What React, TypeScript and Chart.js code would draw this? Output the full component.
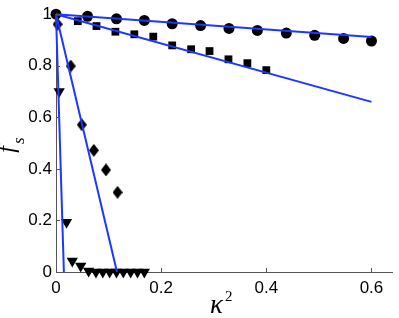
import React, { useEffect, useRef } from 'react';
import { Chart, registerables } from 'chart.js';

Chart.register(...registerables);

// Circle series
const circleX = [0, 0.06, 0.115, 0.168, 0.221, 0.275, 0.329, 0.383, 0.438, 0.492, 0.547, 0.6];
const circleY = [1.0, 0.992, 0.982, 0.976, 0.963, 0.956, 0.945, 0.937, 0.927, 0.918, 0.906, 0.896];

// Square series
const squareX = [0.0415, 0.077, 0.113, 0.149, 0.185, 0.221, 0.257, 0.292, 0.328, 0.364, 0.4];
const squareY = [0.973, 0.954, 0.932, 0.922, 0.913, 0.879, 0.864, 0.857, 0.825, 0.81, 0.783];

// Diamond series
const diamondX = [0.003, 0.028, 0.049, 0.072, 0.095, 0.117];
const diamondY = [0.961, 0.799, 0.571, 0.472, 0.396, 0.309];

// Triangle series
const triangleX = [0.006, 0.02, 0.031, 0.047, 0.062, 0.076, 0.089, 0.102, 0.115, 0.128, 0.142, 0.155, 0.168];
const triangleY = [0.7, 0.193, 0.043, 0.023, 0.004, 0, 0, 0, 0, 0, 0, 0, 0];

// Fitted lines (start and end points)
const line1X = [0, 0.6];
const line1Y = [1, 0.912];
const line2X = [0, 0.6];
const line2Y = [1, 0.66];
const line3X = [0, 0.116];
const line3Y = [1, 0];
const line4X = [0, 0.015];
const line4Y = [1, 0];

// Axes
const xTicks = [0, 0.2, 0.4, 0.6];
const yTicks = [0, 0.2, 0.4, 0.6, 0.8, 1];
const xMin = 0;
const xMax = 0.64;
const yMin = 0;
const yMax = 1;

const pts = (xs: number[], ys: number[]) => xs.map((x, i) => ({ x, y: ys[i] }));
const fmt = (v: number) => String(Math.round(v * 10) / 10);

export default function App() {
  const ref = useRef<HTMLCanvasElement>(null);

  useEffect(() => {
    const diamond = document.createElement('canvas');
    diamond.width = 10;
    diamond.height = 13;
    const dc = diamond.getContext('2d')!;
    dc.fillStyle = '#000';
    dc.beginPath();
    dc.moveTo(5, 0);
    dc.lineTo(10, 6.5);
    dc.lineTo(5, 13);
    dc.lineTo(0, 6.5);
    dc.closePath();
    dc.fill();

    const inTicks = {
      id: 'inTicks',
      afterDraw(chart: any) {
        const ctx = chart.ctx;
        const { left, bottom } = chart.chartArea;
        const xs = chart.scales.x;
        const ys = chart.scales.y;
        ctx.save();
        ctx.strokeStyle = '#555';
        ctx.lineWidth = 1;
        ctx.beginPath();
        xTicks.forEach((v) => {
          const px = Math.round(xs.getPixelForValue(v)) + 0.5;
          ctx.moveTo(px, bottom);
          ctx.lineTo(px, bottom - 4);
        });
        yTicks.forEach((v) => {
          const py = Math.round(ys.getPixelForValue(v)) + 0.5;
          ctx.moveTo(left, py);
          ctx.lineTo(left + 4, py);
        });
        ctx.stroke();
        ctx.restore();
      },
    };

    const titles = {
      id: 'titles',
      afterDraw(chart: any) {
        const ctx = chart.ctx;
        const { left, right, top, bottom } = chart.chartArea;
        ctx.save();
        ctx.fillStyle = '#000';
        ctx.textBaseline = 'alphabetic';
        ctx.textAlign = 'left';
        // y title: f_s rotated
        const cy = (top + bottom) / 2 + 2;
        ctx.translate(14, cy);
        ctx.rotate(-Math.PI / 2);
        const fFont = 'italic 24px "Liberation Serif", "DejaVu Serif", serif';
        const sFont = 'italic 17px "Liberation Serif", "DejaVu Serif", serif';
        ctx.font = fFont;
        const wf = ctx.measureText('f').width;
        ctx.font = sFont;
        const ws = ctx.measureText('s').width;
        const start = -(wf + ws + 2) / 2;
        ctx.font = fFont;
        ctx.fillText('f', start, 0);
        ctx.font = sFont;
        ctx.fillText('s', start + wf + 2, 10);
        ctx.restore();

        // x title: κ^2
        ctx.save();
        ctx.fillStyle = '#000';
        ctx.textBaseline = 'alphabetic';
        ctx.textAlign = 'left';
        const kFont = 'italic 27px "Liberation Serif", "DejaVu Serif", serif';
        const tFont = '15px "Liberation Serif", "DejaVu Serif", serif';
        ctx.font = kFont;
        const wk = ctx.measureText('κ').width;
        ctx.font = tFont;
        const w2 = ctx.measureText('2').width;
        const cx = (left + right) / 2 - 3;
        const sx = cx - (wk + w2 + 2) / 2;
        ctx.font = kFont;
        ctx.fillText('κ', sx, 313);
        ctx.font = tFont;
        ctx.fillText('2', sx + wk + 2, 301);
        ctx.restore();
      },
    };

    const lineStyle = {
      showLine: true,
      borderColor: 'rgb(30, 55, 255)',
      borderWidth: 2,
      pointRadius: 0,
      fill: false,
      order: 0,
    };

    const chart = new Chart(ref.current!, {
      type: 'scatter',
      data: {
        datasets: [
          { ...lineStyle, data: pts(line1X, line1Y) },
          { ...lineStyle, data: pts(line2X, line2Y) },
          { ...lineStyle, data: pts(line3X, line3Y) },
          { ...lineStyle, data: pts(line4X, line4Y) },
          {
            data: pts(circleX, circleY),
            pointStyle: 'circle',
            pointRadius: 5.5,
            backgroundColor: '#000',
            borderColor: '#000',
            borderWidth: 0,
            order: 1,
          },
          {
            data: pts(squareX, squareY),
            pointStyle: 'rect',
            pointRadius: 5.5,
            backgroundColor: '#000',
            borderColor: '#000',
            borderWidth: 0,
            order: 1,
          },
          {
            data: pts(diamondX, diamondY),
            pointStyle: diamond,
            pointRadius: 6,
            backgroundColor: '#000',
            borderColor: '#000',
            borderWidth: 0,
            order: 1,
          },
          {
            data: pts(triangleX, triangleY),
            pointStyle: 'triangle',
            rotation: 180,
            pointRadius: 6.5,
            backgroundColor: '#000',
            borderColor: '#000',
            borderWidth: 0,
            order: 1,
          },
        ],
      } as any,
      options: {
        animation: false,
        responsive: false,
        events: [],
        clip: false,
        layout: { padding: { top: 13, right: 4, left: 0, bottom: 0 } },
        plugins: { legend: { display: false }, tooltip: { enabled: false } },
        scales: {
          x: {
            type: 'linear',
            min: xMin,
            max: xMax,
            afterBuildTicks: (s: any) => {
              s.ticks = xTicks.map((v) => ({ value: v }));
            },
            afterFit: (s: any) => {
              s.height = 46;
            },
            grid: { drawOnChartArea: false, drawTicks: false },
            border: { display: true, color: '#555', width: 1 },
            ticks: {
              color: '#000',
              font: { family: '"Liberation Sans", Arial, sans-serif', size: 17 },
              padding: 6,
              maxRotation: 0,
              autoSkip: false,
              callback: (v: any) => fmt(Number(v)),
            },
          },
          y: {
            type: 'linear',
            min: yMin,
            max: yMax,
            afterBuildTicks: (s: any) => {
              s.ticks = yTicks.map((v) => ({ value: v }));
            },
            afterFit: (s: any) => {
              s.width = 56;
            },
            grid: { drawOnChartArea: false, drawTicks: false },
            border: { display: true, color: '#555', width: 1 },
            ticks: {
              color: '#000',
              font: { family: '"Liberation Sans", Arial, sans-serif', size: 17 },
              padding: 4,
              autoSkip: false,
              callback: (v: any) => fmt(Number(v)),
            },
          },
        },
      } as any,
      plugins: [inTicks, titles],
    });
    return () => chart.destroy();
  }, []);

  return (
    <div style={{ position: 'fixed', left: 0, top: 0, width: 399, height: 318, background: '#fff' }}>
      <canvas ref={ref} width={399} height={318} style={{ width: 399, height: 318, display: 'block' }} />
    </div>
  );
}
